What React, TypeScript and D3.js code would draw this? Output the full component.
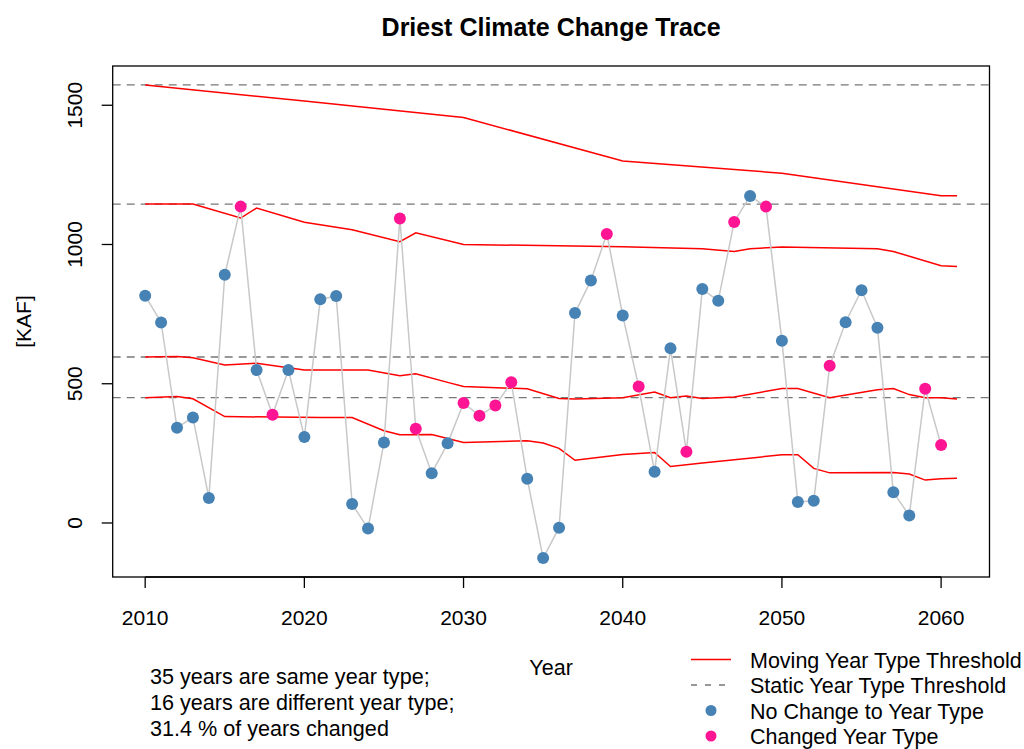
import React from "react";
import * as d3 from "d3";

const years: number[] = d3.range(2010, 2061);
const flows: number[] = [
  816, 720, 342, 379, 90, 891, 1136, 549, 389, 549,
  309, 803, 815, 68, -20, 289, 1093, 338, 179, 286,
  431, 385, 422, 505, 159, -126, -17, 754, 871, 1038,
  745, 490, 184, 627, 256, 840, 798, 1081, 1174, 1136,
  654, 75, 80, 565, 721, 836, 701, 110, 27, 482, 280,
];
const changedYears: number[] = [2016, 2018, 2026, 2027, 2030, 2031, 2032, 2033, 2039, 2041, 2044, 2047, 2049, 2053, 2059, 2060];

const staticThresholds: number[] = [1573, 1145, 596, 450];

const moving1: [number, number][] = [[2010, 1573], [2020, 1515], [2030, 1456], [2040, 1300], [2050, 1256], [2060, 1175], [2061, 1175]];
const moving2: [number, number][] = [[2010, 1145], [2013, 1145], [2016, 1095], [2017, 1131], [2020, 1080], [2023, 1053], [2026, 1010], [2027, 1042], [2030, 1000], [2040, 992], [2045, 985], [2047, 975], [2048, 985], [2050, 991], [2056, 985], [2057, 975], [2060, 924], [2061, 921]];
const moving3: [number, number][] = [[2010, 596], [2012, 598], [2013, 593], [2015, 567], [2017, 574], [2020, 549], [2024, 549], [2026, 529], [2027, 536], [2029, 505], [2030, 490], [2034, 482], [2036, 447], [2037, 445], [2040, 450], [2042, 470], [2043, 450], [2044, 456], [2045, 447], [2047, 452], [2050, 483], [2051, 483], [2053, 450], [2056, 478], [2057, 483], [2058, 461], [2059, 450], [2060, 450], [2061, 445]];
const moving4: [number, number][] = [[2010, 450], [2012, 454], [2013, 446], [2015, 382], [2021, 379], [2023, 379], [2025, 331], [2026, 317], [2028, 318], [2030, 289], [2034, 295], [2035, 287], [2036, 268], [2037, 225], [2040, 246], [2042, 253], [2043, 203], [2045, 215], [2050, 245], [2051, 245], [2052, 196], [2053, 180], [2057, 181], [2058, 176], [2059, 154], [2060, 159], [2061, 161]];

const xTicks: number[] = [2010, 2020, 2030, 2040, 2050, 2060];
const yTicks: number[] = [0, 500, 1000, 1500];

const titleText = "Driest Climate Change Trace";
const xLabel = "Year";
const yLabel = "[KAF]";
const summaryLines: string[] = ["35 years are same year type;", "16 years are different year type;", "31.4 % of years changed"];
const legendLabels: string[] = ["Moving Year Type Threshold", "Static Year Type Threshold", "No Change to Year Type", "Changed Year Type"];

const BLUE = "#4682B4";
const PINK = "#FF1493";
const FONT = "'Liberation Sans', Arial, Helvetica, sans-serif";

export default function App() {
  const W = 1024, H = 749;
  const L = 112.7, R = 989.5, T = 66, B = 577;
  const movingAll = [moving1, moving2, moving3, moving4];

  const xMin = 2010, xMax = 2061;
  const xPad = (xMax - xMin) * 0.04;
  const x = d3.scaleLinear().domain([xMin - xPad, xMax + xPad]).range([L, R]);

  const allVals = [...flows, ...staticThresholds, ...movingAll.flat().map((d) => d[1])];
  const [yLo, yHi] = d3.extent(allVals) as [number, number];
  const yPad = (yHi - yLo) * 0.04;
  const y = d3.scaleLinear().domain([yLo - yPad, yHi + yPad]).range([B, T]);

  const line = d3.line<[number, number]>().x((d) => x(d[0])).y((d) => y(d[1]));
  const pts: [number, number][] = years.map((yr, i) => [yr, flows[i]]);

  const legY0 = 659.5, legStep = 25.5;

  return (
    <div style={{ position: "absolute", left: 0, top: 0 }}>
      <svg width={W} height={H} style={{ display: "block", background: "#fff" }} fontFamily={FONT}>
        <rect x={0} y={0} width={W} height={H} fill="#fff" />
        <text x={(L + R) / 2} y={36} textAnchor="middle" fontWeight="bold" fontSize={25}>{titleText}</text>

        {staticThresholds.map((v, i) => (
          <line key={"s" + i} x1={L} x2={R} y1={y(v)} y2={y(v)} stroke="#777" strokeWidth={1.3} strokeDasharray="8,6" />
        ))}
        {movingAll.map((m, i) => (
          <path key={"m" + i} d={line(m) || ""} fill="none" stroke="#FF0000" strokeWidth={1.5} />
        ))}
        <path d={line(pts) || ""} fill="none" stroke="#C8C8C8" strokeWidth={1.5} />
        {pts.map((p, i) => (
          <circle key={"p" + i} cx={x(p[0])} cy={y(p[1])} r={6} fill={changedYears.includes(p[0]) ? PINK : BLUE} />
        ))}

        <rect x={L} y={T} width={R - L} height={B - T} fill="none" stroke="#000" strokeWidth={1.3} />

        <line x1={x(xTicks[0])} x2={x(xTicks[xTicks.length - 1])} y1={B} y2={B} stroke="#000" strokeWidth={1.3} />
        {xTicks.map((t) => (
          <g key={"xt" + t}>
            <line x1={x(t)} x2={x(t)} y1={B} y2={B + 11} stroke="#000" strokeWidth={1.3} />
            <text x={x(t)} y={625} textAnchor="middle" fontSize={21}>{t}</text>
          </g>
        ))}
        {yTicks.map((t) => (
          <g key={"yt" + t}>
            <line x1={L - 11} x2={L} y1={y(t)} y2={y(t)} stroke="#000" strokeWidth={1.3} />
            <text transform={`translate(82,${y(t)}) rotate(-90)`} textAnchor="middle" fontSize={21}>{t}</text>
          </g>
        ))}

        <text x={(L + R) / 2} y={675} textAnchor="middle" fontSize={21.5}>{xLabel}</text>
        <text transform={`translate(31,${(T + B) / 2}) rotate(-90)`} textAnchor="middle" fontSize={21}>{yLabel}</text>

        {summaryLines.map((s, i) => (
          <text key={"sum" + i} x={150} y={684 + i * 26} fontSize={21.6}>{s}</text>
        ))}

        <line x1={691} x2={731} y1={legY0} y2={legY0} stroke="#FF0000" strokeWidth={1.5} />
        <line x1={691} x2={731} y1={legY0 + legStep} y2={legY0 + legStep} stroke="#777" strokeWidth={1.3} strokeDasharray="6,8" />
        <circle cx={711} cy={legY0 + 2 * legStep} r={5.5} fill={BLUE} />
        <circle cx={711} cy={legY0 + 3 * legStep} r={5.5} fill={PINK} />
        {legendLabels.map((s, i) => (
          <text key={"lg" + i} x={750} y={legY0 + 8 + i * legStep} fontSize={21.5}>{s}</text>
        ))}
      </svg>
    </div>
  );
}
